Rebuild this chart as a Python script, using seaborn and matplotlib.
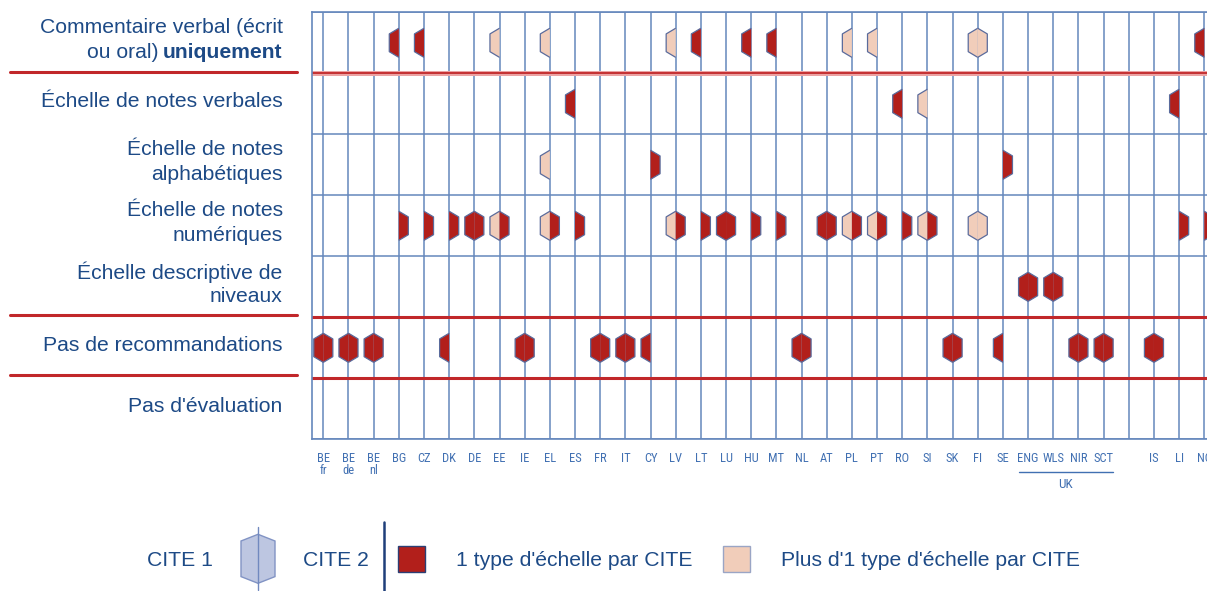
import numpy as np
import pandas as pd
import matplotlib
matplotlib.use("Agg")
import matplotlib.pyplot as plt
import matplotlib.transforms as mtransforms
from matplotlib.path import Path
from matplotlib.patches import Polygon, Rectangle
from matplotlib.lines import Line2D
from matplotlib import font_manager as fm
import seaborn as sns

# ---------------- data ----------------
countries = ["BE fr", "BE de", "BE nl", "BG", "CZ", "DK", "DE", "EE", "IE", "EL",
             "ES", "FR", "IT", "CY", "LV", "LT", "LU", "HU", "MT", "NL", "AT",
             "PL", "PT", "RO", "SI", "SK", "FI", "SE", "ENG", "WLS", "NIR", "SCT",
             "", "IS", "LI", "NO"]

row_labels = [
    ["Commentaire verbal (écrit", "ou oral) uniquement"],
    ["Échelle de notes verbales"],
    ["Échelle de notes", "alphabétiques"],
    ["Échelle de notes", "numériques"],
    ["Échelle descriptive de", "niveaux"],
    ["Pas de recommandations"],
    ["Pas d'évaluation"],
]

# values: (CITE 1, CITE 2); 0 = none, 1 = one type of scale, 2 = more than one type
verbal_only = {"BG": (1, 0), "CZ": (1, 0), "EE": (2, 0), "EL": (2, 0), "LV": (2, 0),
               "LT": (1, 0), "HU": (1, 0), "MT": (1, 0), "PL": (2, 0), "PT": (2, 0),
               "FI": (2, 2), "NO": (1, 0)}
verbal_scale = {"ES": (1, 0), "RO": (1, 0), "SI": (2, 0), "LI": (1, 0)}
alpha_scale = {"EL": (2, 0), "CY": (0, 1), "SE": (0, 1)}
numeric_scale = {"BG": (0, 1), "CZ": (0, 1), "DK": (0, 1), "DE": (1, 1), "EE": (2, 1),
                 "EL": (2, 1), "ES": (0, 1), "LV": (2, 1), "LT": (0, 1), "LU": (1, 1),
                 "HU": (0, 1), "MT": (0, 1), "AT": (1, 1), "PL": (2, 1), "PT": (2, 1),
                 "RO": (0, 1), "SI": (2, 1), "FI": (2, 2), "LI": (0, 1), "NO": (0, 1)}
level_scale = {"ENG": (1, 1), "WLS": (1, 1)}
no_recommendation = {"BE fr": (1, 1), "BE de": (1, 1), "BE nl": (1, 1), "DK": (1, 0),
                     "IE": (1, 1), "FR": (1, 1), "IT": (1, 1), "CY": (1, 0),
                     "NL": (1, 1), "SK": (1, 1), "SE": (1, 0), "NIR": (1, 1),
                     "SCT": (1, 1), "IS": (1, 1)}
no_evaluation = {}

rows_data = [verbal_only, verbal_scale, alpha_scale, numeric_scale,
             level_scale, no_recommendation, no_evaluation]
separator_rows = [1, 5, 6]
uk_group = ["ENG", "WLS", "NIR", "SCT"]

# ---------------- style ----------------
W, H = 1207, 591
DARK = "#B21F1B"
LIGHT = "#F1CDBA"
GRID = "#6587BC"
RED = "#C1272A"
TXT = "#1D4A86"
TICK = "#4170B2"

sns.set_style("white")
avail = {f.name for f in fm.fontManager.ttflist}
main_font = ["Liberation Sans", "DejaVu Sans"]
narrow = None
for cand in ["Liberation Sans Narrow", "Roboto Condensed", "Open Sans Condensed"]:
    if cand in avail:
        narrow = cand
        break
narrow_kw = {"family": [narrow, "DejaVu Sans"]} if narrow else {"family": ["DejaVu Sans"], "stretch": "condensed"}
plt.rcParams["font.family"] = main_font

# long-form table
recs = []
for r, d in enumerate(rows_data):
    for code, (c1, c2) in d.items():
        xi = countries.index(code)
        for half, v in (("CITE 1", c1), ("CITE 2", c2)):
            if v:
                recs.append({"x": xi, "y": r + 0.5, "half": half,
                             "kind": "un" if v == 1 else "plusieurs"})
df = pd.DataFrame(recs)

# half-hexagon marker paths (open on the central seam)
hw, hs = 0.655, 0.61
left_path = Path([(0, 1), (-hw, hs), (-hw, -hs), (0, -1)],
                 [Path.MOVETO, Path.LINETO, Path.LINETO, Path.LINETO])
right_path = Path([(0, 1), (hw, hs), (hw, -hs), (0, -1)],
                  [Path.MOVETO, Path.LINETO, Path.LINETO, Path.LINETO])

fig = plt.figure(figsize=(W / 100, H / 100), dpi=100)
ax_left_px, ax_top_px, ax_bot_px = 311.7, 12.3, 439.3
ax = fig.add_axes([ax_left_px / W, 1 - ax_bot_px / H, 1 - ax_left_px / W,
                   (ax_bot_px - ax_top_px) / H])

sns.scatterplot(data=df, x="x", y="y", hue="kind", style="half",
                markers={"CITE 1": left_path, "CITE 2": right_path},
                palette={"un": DARK, "plusieurs": LIGHT},
                s=440, edgecolor="#5A6B9C", linewidth=0.9, legend=False,
                ax=ax, zorder=3)

n = len(countries)
spacing_px = (1204.3 - 323.3) / (n - 1)
x_left = -(323.3 - ax_left_px) / spacing_px
x_right = (W - 323.3) / spacing_px
ax.set_xlim(x_left, x_right)
ax.set_ylim(len(row_labels), 0)
ax.set_xlabel("")
ax.set_ylabel("")

ax.set_xticks(range(n))
ax.set_xticklabels([c.replace(" ", "\n") for c in countries], color=TICK,
                   fontsize=9, linespacing=0.95, **narrow_kw)
ax.set_yticks(range(len(row_labels) + 1))
ax.set_yticklabels([])
ax.tick_params(axis="both", length=0)
ax.tick_params(axis="x", pad=9)
ax.grid(True, color=GRID, lw=1.1)
ax.set_axisbelow(True)
for side in ("left", "top", "bottom"):
    ax.spines[side].set_color(GRID)
    ax.spines[side].set_linewidth(1.2)
ax.spines["right"].set_visible(False)

# red separators
blend = mtransforms.blended_transform_factory(ax.transAxes, ax.transData)
for yr in separator_rows:
    if yr == 1:
        ax.axhline(yr, color="#EBA3A3", lw=3.6, zorder=2)
        ax.axhline(yr, color=RED, lw=1.3, zorder=2)
    else:
        ax.axhline(yr, color=RED, lw=2.2, zorder=2)
lab_x0 = (10 - ax_left_px) / (W - ax_left_px)
lab_x1 = (297 - ax_left_px) / (W - ax_left_px)
for yr, dy in zip(separator_rows, [-0.015, -0.045, -0.06]):
    ax.add_line(Line2D([lab_x0, lab_x1], [yr + dy, yr + dy], transform=blend,
                       color=RED, lw=2.2, clip_on=False))

# row labels
lab_x = (282.7 - ax_left_px) / (W - ax_left_px)
line_gap = 25 / 61.0
for r, lines in enumerate(row_labels):
    nl = len(lines)
    yc = r + 0.5 - 0.04
    for i, line in enumerate(lines):
        yy = yc + (i - (nl - 1) / 2) * line_gap
        if r == 0 and i == 1:
            bold = ax.text(lab_x, yy, "uniquement", transform=blend, ha="right",
                           va="center", fontsize=15.2, color=TXT, fontweight="bold")
            ax.annotate("ou oral)", xy=(0, 0.5), xycoords=bold, xytext=(-5, 0),
                        textcoords="offset pixels", ha="right", va="center",
                        fontsize=15.2, color=TXT)
        else:
            ax.text(lab_x, yy, line, transform=blend, ha="right", va="center",
                    fontsize=15.2, color=TXT)

# UK bracket
tx = mtransforms.blended_transform_factory(ax.transData, ax.transAxes)
i0, i1 = countries.index(uk_group[0]), countries.index(uk_group[-1])
yb = -(472 - ax_bot_px) / (ax_bot_px - ax_top_px)
ax.add_line(Line2D([i0 - 0.36, i1 + 0.39], [yb, yb], transform=tx, color=TICK,
                   lw=1.0, clip_on=False))
ax.text((i0 + i1) / 2, yb - 0.014, "UK", transform=tx, ha="center", va="top",
        fontsize=9.5, color=TICK, **narrow_kw)

# ---------------- legend (figure pixels) ----------------
def fxy(px, py):
    return px / W, 1 - py / H

ly = 560
fig.text(*fxy(146.7, ly), "CITE 1", ha="left", va="center", fontsize=15.2, color=TXT)
cx, cy, hwp, hhp, hsp = 258, 558.8, 17, 24.5, 17.8
hexpts = [fxy(cx, cy - hhp), fxy(cx + hwp, cy - hsp), fxy(cx + hwp, cy + hsp),
          fxy(cx, cy + hhp), fxy(cx - hwp, cy + hsp), fxy(cx - hwp, cy - hsp)]
fig.add_artist(Polygon(hexpts, closed=True, transform=fig.transFigure,
                       facecolor="#BDC6E1", edgecolor="#8193C4", lw=1.0))
fig.add_artist(Line2D([cx / W, cx / W], [1 - 527 / H, 1 - 590 / H],
                      transform=fig.transFigure, color="#7189BF", lw=1.0))
fig.text(*fxy(303, ly), "CITE 2", ha="left", va="center", fontsize=15.2, color=TXT)
fig.add_artist(Line2D([384 / W, 384 / W], [1 - 522 / H, 1 - 591 / H],
                      transform=fig.transFigure, color="#1F3F7A", lw=1.8))
for x0, fc, ec in ((398, DARK, "#2B3F75"), (723, LIGHT, "#9AA5C5")):
    fig.add_artist(Rectangle(fxy(x0, 572), 27 / W, 26 / H, transform=fig.transFigure,
                             facecolor=fc, edgecolor=ec, lw=1.0))
fig.text(*fxy(456, ly), "1 type d'échelle par CITE", ha="left", va="center",
         fontsize=15.2, color=TXT)
fig.text(*fxy(781, ly), "Plus d'1 type d'échelle par CITE", ha="left", va="center",
         fontsize=15.2, color=TXT)

fig.savefig("out.png", dpi=100, facecolor="white")
